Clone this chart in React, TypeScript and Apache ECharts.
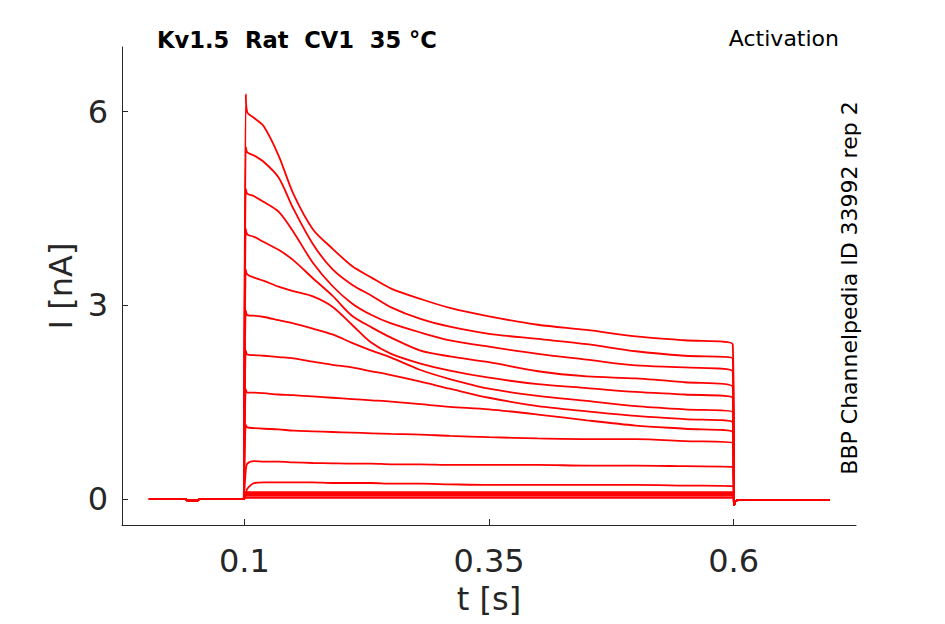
import React, { useEffect, useRef } from "react";
import * as echarts from "echarts";

// Time points during the pulse (s)
const TIME = [0.103, 0.11, 0.12, 0.135, 0.15, 0.17, 0.19, 0.21, 0.23, 0.25, 0.28, 0.31, 0.35, 0.4, 0.45, 0.5, 0.55, 0.599];

// Current traces during pulse (nA), one per voltage step
const TRACE_1 = [5.99, 5.9, 5.77, 5.32, 4.73, 4.18, 3.88, 3.61, 3.43, 3.26, 3.1, 2.96, 2.83, 2.7, 2.62, 2.52, 2.46, 2.4];
const TRACE_2 = [5.37, 5.32, 5.22, 4.98, 4.5, 3.95, 3.56, 3.32, 3.15, 2.97, 2.79, 2.67, 2.56, 2.48, 2.4, 2.29, 2.22, 2.18];
const TRACE_3 = [4.73, 4.69, 4.6, 4.45, 4.14, 3.66, 3.3, 3.03, 2.85, 2.72, 2.58, 2.46, 2.36, 2.25, 2.16, 2.07, 2.04, 1.98];
const TRACE_4 = [4.1, 4.06, 3.98, 3.86, 3.7, 3.42, 3.15, 2.84, 2.66, 2.5, 2.3, 2.21, 2.12, 1.98, 1.9, 1.87, 1.81, 1.74];
const TRACE_5 = [3.48, 3.43, 3.38, 3.29, 3.22, 3.14, 2.98, 2.7, 2.42, 2.25, 2.1, 1.99, 1.88, 1.78, 1.72, 1.66, 1.62, 1.57];
const TRACE_6 = [2.85, 2.84, 2.82, 2.77, 2.72, 2.64, 2.55, 2.42, 2.3, 2.19, 2.0, 1.86, 1.71, 1.6, 1.52, 1.44, 1.39, 1.35];
const TRACE_7 = [2.24, 2.23, 2.22, 2.2, 2.18, 2.13, 2.08, 2.04, 1.98, 1.92, 1.82, 1.71, 1.57, 1.44, 1.36, 1.29, 1.24, 1.19];
const TRACE_8 = [1.65, 1.65, 1.64, 1.62, 1.61, 1.59, 1.57, 1.55, 1.53, 1.51, 1.47, 1.43, 1.39, 1.31, 1.22, 1.14, 1.09, 1.04];
const TRACE_9 = [1.11, 1.1, 1.09, 1.08, 1.06, 1.05, 1.04, 1.03, 1.02, 1.01, 1.0, 0.98, 0.96, 0.94, 0.93, 0.93, 0.9, 0.87];
const TRACE_10 = [0.55, 0.59, 0.58, 0.58, 0.57, 0.56, 0.555, 0.55, 0.55, 0.54, 0.54, 0.53, 0.53, 0.53, 0.52, 0.52, 0.51, 0.5];
const TRACE_11 = [0.16, 0.25, 0.26, 0.26, 0.26, 0.26, 0.25, 0.25, 0.25, 0.24, 0.24, 0.23, 0.22, 0.22, 0.22, 0.22, 0.21, 0.2];
const TRACE_12 = [0.11, 0.11, 0.11, 0.11, 0.11, 0.11, 0.11, 0.11, 0.11, 0.11, 0.11, 0.11, 0.11, 0.11, 0.11, 0.11, 0.11, 0.11];
const TRACE_13 = [0.08, 0.08, 0.08, 0.08, 0.08, 0.08, 0.08, 0.08, 0.08, 0.08, 0.08, 0.08, 0.08, 0.08, 0.08, 0.08, 0.08, 0.08];
const TRACE_14 = [0.05, 0.05, 0.05, 0.05, 0.05, 0.05, 0.05, 0.05, 0.05, 0.05, 0.05, 0.05, 0.05, 0.05, 0.05, 0.05, 0.05, 0.05];
const TRACE_15 = [0.02, 0.02, 0.02, 0.02, 0.02, 0.02, 0.02, 0.02, 0.02, 0.02, 0.02, 0.02, 0.02, 0.02, 0.02, 0.02, 0.02, 0.02];

const TRACES = [TRACE_15, TRACE_14, TRACE_13, TRACE_12, TRACE_11, TRACE_10, TRACE_9, TRACE_8, TRACE_7, TRACE_6, TRACE_5, TRACE_4, TRACE_3, TRACE_2, TRACE_1];
// Onset transient value at t = 0.1015 s, same order as TRACES
const ONSET_PEAK = [0.02, 0.05, 0.08, 0.11, 0.08, 0.45, 1.15, 1.7, 2.3, 2.92, 3.55, 4.18, 4.8, 5.45, 6.27];

// Holding current before the pulse
const PRE_T = [0.0025, 0.04, 0.042, 0.052, 0.054, 0.0995, 0.1];
const PRE_I = [0, 0, -0.02, -0.02, 0, 0, 0];
// After the pulse
const POST_T = [0.6005, 0.602, 0.606, 0.698];
const POST_I = [-0.09, -0.03, -0.01, -0.01];

const X_TICKS = [0.1, 0.35, 0.6];
const Y_TICKS = [0, 3, 6];

const FONT = "DejaVu Sans";
const INK = "#262626";

export default function App() {
  const ref = useRef<HTMLDivElement>(null);
  useEffect(() => {
    if (!ref.current) return;
    const chart = echarts.init(ref.current, null, { renderer: "svg" });
    const series = TRACES.map((vals, k) => {
      const data: number[][] = [];
      PRE_T.forEach((t, j) => data.push([t, PRE_I[j]]));
      data.push([0.1015, ONSET_PEAK[k]]);
      TIME.forEach((t, j) => data.push([t, vals[j]]));
      POST_T.forEach((t, j) => data.push([t, POST_I[j]]));
      return {
        type: "line",
        data,
        showSymbol: false,
        symbol: "none",
        smooth: 0.3,
        lineStyle: { color: "#ff0000", width: 1.8 },
        silent: true,
      };
    });
    chart.setOption({
      animation: false,
      grid: { left: 122, right: 89, top: 47, bottom: 99, containLabel: false },
      title: [
        {
          text: "Kv1.5  Rat  CV1  35 °C",
          left: 152,
          top: 23,
          textStyle: { fontFamily: FONT, fontSize: 22.6, fontWeight: "bold", color: "#000" },
        },
        {
          text: "Activation",
          right: 101,
          top: 22,
          textStyle: { fontFamily: FONT, fontSize: 22, fontWeight: "normal", color: "#000" },
        },
      ],
      graphic: [
        {
          type: "text",
          x: 849,
          y: 288,
          rotation: Math.PI / 2,
          style: {
            text: "BBP Channelpedia ID 33992 rep 2",
            fontFamily: FONT,
            fontSize: 22,
            fill: "#000",
            align: "center",
            verticalAlign: "middle",
          },
        },
      ],
      xAxis: {
        type: "value",
        min: -0.025,
        max: 0.725,
        name: "t [s]",
        nameLocation: "middle",
        nameGap: 58,
        nameTextStyle: { fontFamily: FONT, fontSize: 32, color: INK },
        axisLine: { show: true, onZero: false, lineStyle: { color: INK, width: 1 } },
        axisTick: { show: true, inside: true, length: 6, customValues: X_TICKS, lineStyle: { color: INK } },
        axisLabel: { customValues: X_TICKS, fontFamily: FONT, fontSize: 32, color: INK, margin: 20 },
        splitLine: { show: false },
      },
      yAxis: {
        type: "value",
        min: -0.4,
        max: 7,
        name: "I [nA]",
        nameLocation: "middle",
        nameGap: 45,
        nameTextStyle: { fontFamily: FONT, fontSize: 32, color: INK },
        axisLine: { show: true, onZero: false, lineStyle: { color: INK, width: 1 } },
        axisTick: { show: true, inside: true, length: 6, customValues: Y_TICKS, lineStyle: { color: INK } },
        axisLabel: { customValues: Y_TICKS, fontFamily: FONT, fontSize: 32, color: INK, margin: 14 },
        splitLine: { show: false },
      },
      series,
    });
    return () => chart.dispose();
  }, []);
  return (
    <div
      ref={ref}
      style={{ position: "fixed", left: 0, top: 0, width: 945, height: 624, background: "#fff" }}
    />
  );
}
